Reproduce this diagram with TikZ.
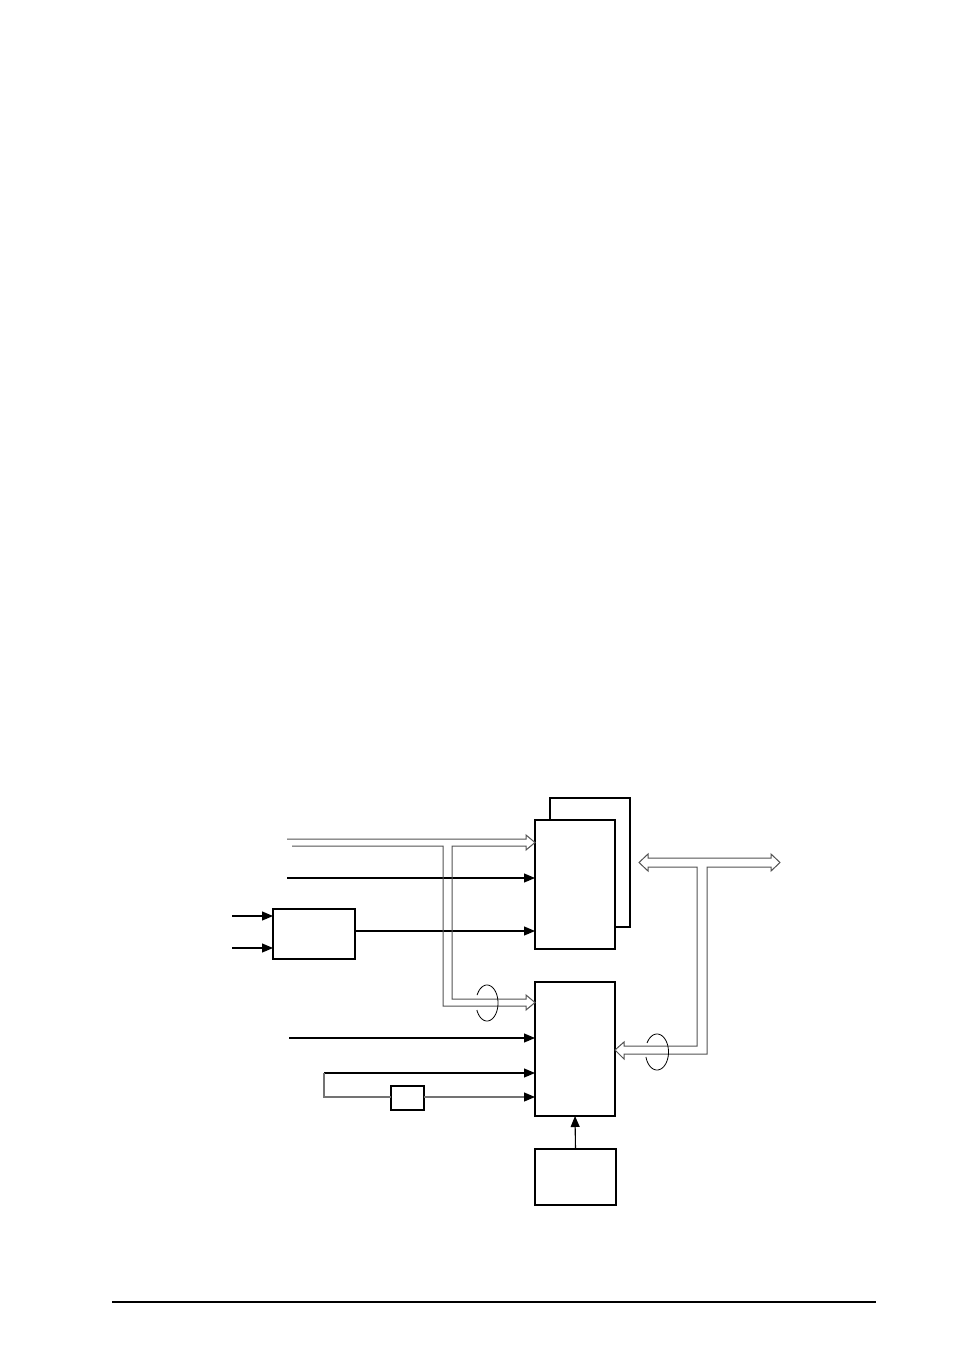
\documentclass[tikz,border=0pt]{standalone}
\usetikzlibrary{arrows.meta}
\begin{document}
\begin{tikzpicture}[x=1pt,y=-1pt,
  box/.style={draw,line width=1.1pt,fill=white,inner sep=0pt,outer sep=0pt,anchor=north west},
  sig/.style={line width=1.1pt,-{Triangle[length=11pt,width=9pt,color=black]}},
  bus/.style={draw=black!68,line width=1pt,line join=miter},
  twist/.style={line width=0.8pt}]
\useasboundingbox (0,0) rectangle (954,1351);
% blocks
\node[box,minimum width=80,minimum height=129] (back) at (550,798) {};
\node[box,minimum width=80,minimum height=129] (upper) at (535,820) {};
\node[box,minimum width=80,minimum height=134] (lower) at (535,982) {};
\node[box,minimum width=81,minimum height=56] (bottom) at (535,1149) {};
\node[box,minimum width=82,minimum height=50] (left) at (273,909) {};
\node[box,minimum width=33,minimum height=24] (small) at (391,1086) {};
% named free ends
\coordinate (a1) at (287,878);
\coordinate (i1) at (232,916);
\coordinate (i2) at (232,948);
\coordinate (a2) at (289,1038);
\coordinate (a3) at (324,1073);
% signal arrows
\draw[sig] (a1) -- (a1 -| upper.west);
\draw[sig] (left.east |- 0,931) -- (upper.west |- 0,931);
\draw[sig] (i1) -- (i1 -| left.west);
\draw[sig] (i2) -- (i2 -| left.west);
\draw[sig] (a2) -- (a2 -| lower.west);
\draw[sig] (a3) -- (a3 -| lower.west);
\draw[line width=1.1pt,black!55] (a3) -- (324,1097) -- (small.west |- 0,1097);
\draw[sig,black!55] (small.east |- 0,1097) -- (lower.west |- 0,1097);
\draw[sig] (bottom.north) -- (lower.south);
% left bus (open double-line arrows)
\draw[bus] (287,839) -- (526,839) -- (526,835) -- (upper.west |- 0,842.5) -- (526,850) -- (526,846)
  -- (452,846) -- (452,999) -- (526,999) -- (526,995) -- (lower.west |- 0,1002.5) -- (526,1010)
  -- (526,1006) -- (443,1006) -- (443,846) -- (292,846);
% right bus (double-headed, to lower block)
\coordinate (rl) at (639,862.5);
\coordinate (rr) at (780,862.5);
\draw[bus] (rl) -- (648,854) -- (648,858) -- (771,858) -- (771,854) -- (rr) -- (771,871) -- (771,867)
  -- (707,867) -- (707,1054) -- (624,1054) -- (624,1059) -- (lower.east |- 0,1050) -- (624,1042)
  -- (624,1046) -- (697,1046) -- (697,867) -- (648,867) -- (648,871) -- cycle;
% twist symbols
\draw[twist] plot[domain=206:517,samples=60,smooth] ({487+11*cos(\x)},{1003+18*sin(\x)});
\draw[twist] plot[domain=210:524,samples=60,smooth] ({657+11.5*cos(\x)},{1052+18*sin(\x)});
% footer rule
\coordinate (f1) at (112,1302);
\coordinate (f2) at (876,1302);
\draw[line width=1.2pt] (f1) -- (f2);
\end{tikzpicture}
\end{document}
